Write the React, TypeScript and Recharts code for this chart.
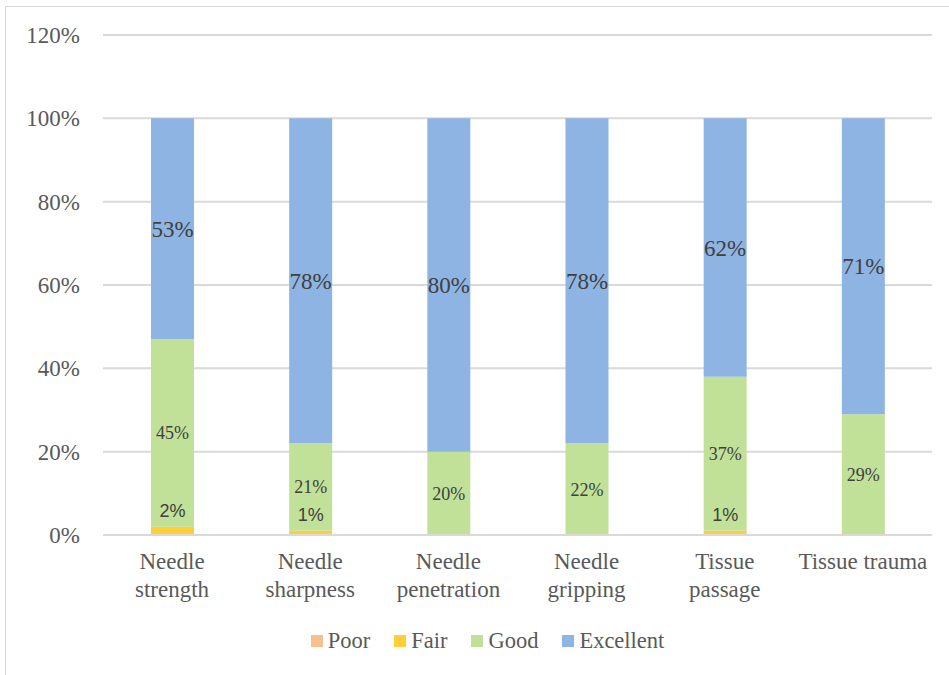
import { BarChart, Bar, XAxis, YAxis, CartesianGrid, Legend, LabelList } from "recharts";

const categories = [
  "Needle\nstrength",
  "Needle\nsharpness",
  "Needle\npenetration",
  "Needle\ngripping",
  "Tissue\npassage",
  "Tissue trauma",
];
const poor = [0, 0, 0, 0, 0, 0];
const fair = [2, 1, 0, 0, 1, 0];
const good = [45, 21, 20, 22, 37, 29];
const excellent = [53, 78, 80, 78, 62, 71];
const yTicks = [0, 20, 40, 60, 80, 100, 120];

const series = [
  { key: "poor", name: "Poor", color: "#F8BF90" },
  { key: "fair", name: "Fair", color: "#FFCF3A" },
  { key: "good", name: "Good", color: "#C1E198" },
  { key: "excellent", name: "Excellent", color: "#8EB4E3" },
];

const data = categories.map((c, i) => ({
  name: c,
  poor: poor[i],
  fair: fair[i],
  good: good[i],
  excellent: excellent[i],
}));

const SERIF = "Liberation Serif, serif";
const SANS = "Liberation Sans, sans-serif";
const AXIS_GREY = "#595959";
const LABEL_GREY = "#404040";

const pct = (v: any) => (Number(v) ? `${v}%` : "");

const CategoryTick = (props: any) => {
  const { x, y, payload } = props;
  const lines = String(payload.value).split("\n");
  return (
    <text x={x} y={y} textAnchor="middle" fill={AXIS_GREY} fontSize={23} style={{ fontFamily: SERIF }}>
      {lines.map((l, i) => (
        <tspan key={i} x={x} dy={i === 0 ? 34 : 28}>
          {l}
        </tspan>
      ))}
    </text>
  );
};

const LegendRow = () => (
  <div
    style={{
      display: "flex",
      justifyContent: "center",
      alignItems: "center",
      gap: 24,
      fontFamily: SERIF,
      fontSize: 22.5,
      color: AXIS_GREY,
      height: 26,
      paddingLeft: 30,
    }}
  >
    {series.map((s) => (
      <span key={s.key} style={{ display: "flex", alignItems: "center" }}>
        <span style={{ width: 12, height: 12, background: s.color, marginRight: 5, display: "inline-block" }} />
        {s.name}
      </span>
    ))}
  </div>
);

export default function App() {
  return (
    <div style={{ position: "absolute", left: 0, top: 0, width: 949, height: 675, overflow: "hidden", background: "#fff" }}>
      <div
        style={{
          position: "absolute",
          left: 5,
          top: 6,
          width: 980,
          height: 700,
          border: "1px solid #d9d9d9",
        }}
      />
      <BarChart
        width={949}
        height={675}
        data={data}
        margin={{ top: 35, right: 17, bottom: 21, left: 13 }}
        barSize={43}
        style={{ position: "absolute", left: 0, top: 0 }}
      >
        <CartesianGrid vertical={false} stroke="#d9d9d9" strokeWidth={2} />
        <XAxis
          dataKey="name"
          interval={0}
          height={93}
          axisLine={{ stroke: "#d9d9d9", strokeWidth: 2 }}
          tickLine={false}
          tickSize={0}
          tickMargin={0}
          tick={<CategoryTick />}
        />
        <YAxis
          domain={[0, 120]}
          ticks={yTicks}
          width={90}
          axisLine={false}
          tickLine={false}
          tickSize={0}
          tickMargin={23}
          tickFormatter={(v) => `${v}%`}
          tick={{ fill: AXIS_GREY, fontSize: 23, style: { fontFamily: SERIF } }}
        />
        <Legend verticalAlign="bottom" height={26} content={<LegendRow />} />
        <Bar dataKey="poor" name="Poor" stackId="a" fill={series[0].color} isAnimationActive={false} />
        <Bar dataKey="fair" name="Fair" stackId="a" fill={series[1].color} isAnimationActive={false}>
          <LabelList dataKey="fair" position="top" offset={10} formatter={pct} fill={LABEL_GREY} fontSize={18} style={{ fontFamily: SANS }} />
        </Bar>
        <Bar dataKey="good" name="Good" stackId="a" fill={series[2].color} isAnimationActive={false}>
          <LabelList dataKey="good" position="center" formatter={pct} fill={LABEL_GREY} fontSize={18} style={{ fontFamily: SERIF }} />
        </Bar>
        <Bar dataKey="excellent" name="Excellent" stackId="a" fill={series[3].color} isAnimationActive={false}>
          <LabelList dataKey="excellent" position="center" formatter={pct} fill={LABEL_GREY} fontSize={23} style={{ fontFamily: SERIF }} />
        </Bar>
      </BarChart>
    </div>
  );
}
